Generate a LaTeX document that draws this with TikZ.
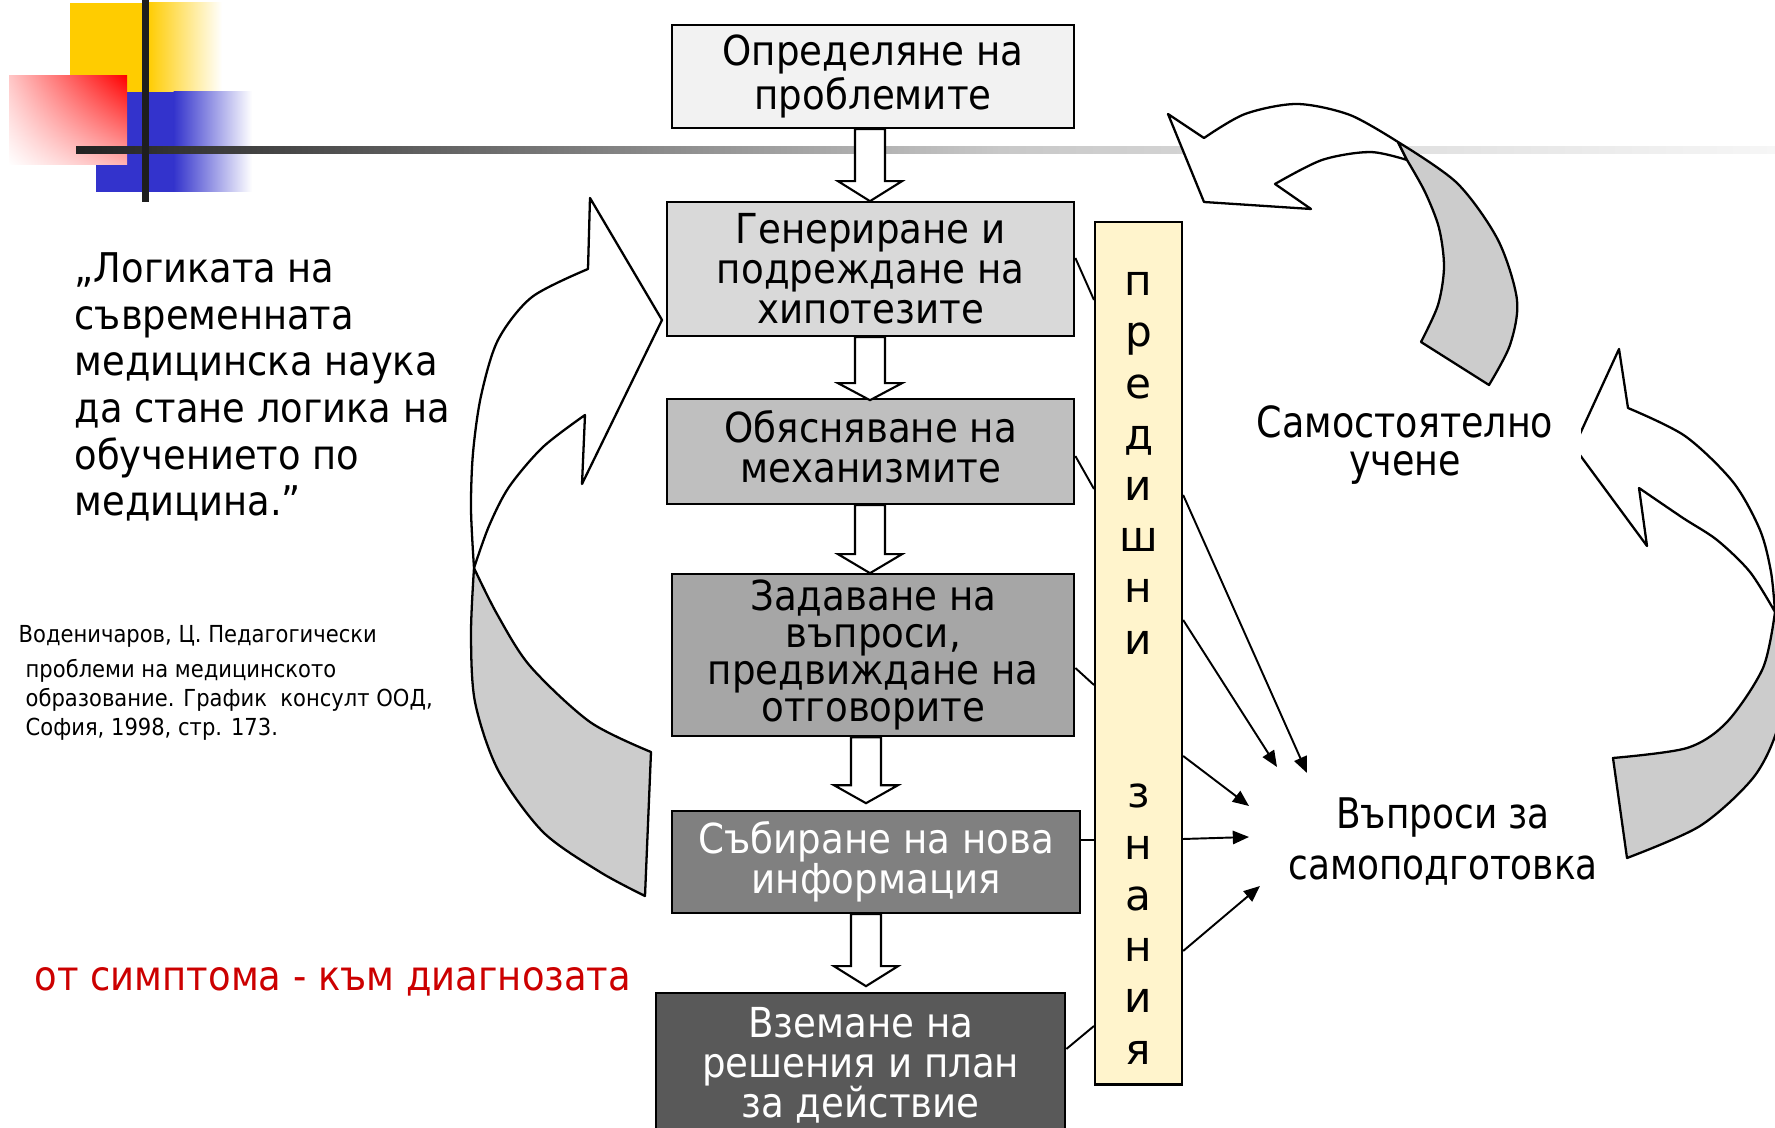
\documentclass[tikz,border=0pt]{standalone}
\usepackage{fontspec}
\setmainfont{DejaVu Sans}
\newfontfamily\tah{DejaVu Sans}[FakeStretch=0.9]
\newfontfamily\cnd{DejaVu Sans}[FakeStretch=0.85]
\usetikzlibrary{arrows.meta,calc,shadings}
\definecolor{yel}{HTML}{FFCC00}
\definecolor{blu}{HTML}{3333CC}
\definecolor{dk}{HTML}{1E1E1E}
\definecolor{lineA}{HTML}{222222}
\definecolor{lineB}{HTML}{C8C8C8}
\definecolor{lineC}{HTML}{F6F6F6}
\definecolor{fA}{HTML}{F2F2F2}
\definecolor{fB}{HTML}{D9D9D9}
\definecolor{fC}{HTML}{BFBFBF}
\definecolor{fD}{HTML}{A6A6A6}
\definecolor{fE}{HTML}{808080}
\definecolor{fF}{HTML}{595959}
\definecolor{barfill}{HTML}{FFF4CC}
\definecolor{backgrey}{HTML}{CCCCCC}
\definecolor{redtxt}{HTML}{CC0000}
\tikzset{
  box/.style={draw=black, line width=0.6pt, anchor=north west, inner sep=0pt, align=center,
    font=\tah\fontsize{11.75}{11.4}\selectfont},
  blk/.style={draw=black, fill=white, line width=0.6pt},
  conn/.style={line width=0.55pt},
  tipped/.style={-{Triangle[length=4.6pt,width=3.8pt]}},
  front/.style={draw=black, fill=white, line width=0.65pt, line join=round},
  back/.style={draw=black, fill=backgrey, line width=0.65pt, line join=round},
}
\newcommand\blockarrow[4]{%
  \draw[blk] (#2,0 |- #1.south) -- ++(0,#3) -- ++(-17,0) -- ++(32,#4) -- ++(32,-#4) -- ++(-17,0) -- ++(0,-#3) -- cycle;}
\begin{document}
\begin{tikzpicture}[x=0.01cm,y=-0.01cm]
\useasboundingbox (0,0) rectangle (1775,1128);
\clip (0,0) rectangle (1775,1128);
\fill[white] (0,0) rectangle (1775,1128);

% decoration top-left
\fill[yel] (70,3) rectangle (148,92);
\shade[left color=yel, right color=white] (147.5,3) rectangle (222,92);
\fill[blu] (96,92) rectangle (174,192);
\shade[left color=blu, right color=white] (173.5,92) rectangle (252,192);
\shade[upper right=red, upper left=red!22, lower right=red!30, lower left=white] (9,76) rectangle (127,165);
\shade[left color=lineA, right color=lineB] (76,146.5) rectangle (1000.5,153.5);
\shade[left color=lineB, right color=lineC] (1000,146.5) rectangle (1775,153.5);
\fill[dk] (141.5,0) rectangle (148.5,202);

% left curved arrow
\path[front] plot[smooth] coordinates {(588,269) (532,297) (498,340) (481,396) (473,453) (471,509) (474,568)}
  -- plot[smooth] coordinates {(474,568) (489,526) (509,487) (543,447) (585,415)}
  -- (582,484) -- (662,320) -- (590,198) -- cycle;
\path[back] plot[smooth] coordinates {(474,568) (471,634) (475,702) (498,770) (543,832) (600,872) (645,896)}
  -- (651,752)
  -- plot[smooth] coordinates {(651,752) (590,722) (530,666) (497,614) (474,568)} -- cycle;

% top-right curved arrow
\path[front] plot[smooth] coordinates {(1204,138) (1245,114) (1297,104) (1350,115) (1398,142)}
  -- (1407,160)
  -- plot[smooth] coordinates {(1407,160) (1370,152) (1322,160) (1275,184)}
  -- (1311,209) -- (1204,202) -- (1168,114) -- cycle;
\path[back] plot[smooth] coordinates {(1398,142) (1457,183) (1498,240) (1517,300) (1510,345) (1489,385)}
  -- (1421,342)
  -- plot[smooth] coordinates {(1421,342) (1438,305) (1444,267) (1439,228) (1425,192) (1407,160)} -- cycle;

% bottom-right curved arrow
\path[front] plot[smooth] coordinates {(1628,408) (1685,436) (1733,482) (1760,530) (1771,572) (1775,612)}
  -- plot[smooth] coordinates {(1775,612) (1750,572) (1717,540) (1683,518) (1639,488)}
  -- (1647,546) -- (1574,447) -- (1619,349) -- cycle;
\path[back] plot[smooth] coordinates {(1775,612) (1786,670) (1777,730) (1753,778) (1700,826) (1627,858)}
  -- (1613,758)
  -- plot[smooth] coordinates {(1613,758) (1687,748) (1727,722) (1763,668) (1775,612)} -- cycle;

% boxes
\node[box, fill=fA, minimum width=4.02cm, minimum height=1.03cm] (b1) at (671,24) {Определяне на\\проблемите};
\node[box, fill=fB, minimum width=4.07cm, minimum height=1.34cm] (b2) at (666,201) {Генериране и\\подреждане на\\хипотезите};
\node[box, fill=fC, minimum width=4.07cm, minimum height=1.05cm, text depth=0.1cm] (b3) at (666,398) {Обясняване на\\механизмите};
\node[box, fill=fD, minimum width=4.02cm, minimum height=1.62cm, font=\tah\fontsize{11.75}{10.5}\selectfont] (b4) at (671,573) {Задаване на\\въпроси,\\предвиждане на\\отговорите};
\node[box, fill=fE, text=white, minimum width=4.08cm, minimum height=1.02cm] (b5) at (671,810) {Събиране на нова\\информация};
\node[box, fill=fF, text=white, minimum width=4.09cm, minimum height=1.45cm] (b6) at (655,992) {Вземане на\\решения и план\\за действие};

\blockarrow{b1}{855}{52}{20}
\blockarrow{b2}{855}{46}{17}
\blockarrow{b3}{855}{49}{19}
\blockarrow{b4}{851}{48}{18}
\blockarrow{b5}{851}{52}{20}

% bar of prior knowledge
\node[draw=black, fill=barfill, line width=0.6pt, anchor=north west, inner sep=0pt,
  minimum width=0.87cm, minimum height=8.62cm] (bar) at (1094,221) {};
\node[align=center, inner sep=0pt, font=\fontsize{12}{14.57}\selectfont] (bartext) at ($(bar.center)+(0,15)$)
  {п\\р\\е\\д\\и\\ш\\н\\и\\~\\~\\з\\н\\а\\н\\и\\я};

\draw[conn] (b2.east |- 0,258) -- (bar.west |- 0,300);
\draw[conn] (b3.east |- 0,456) -- (bar.west |- 0,489);
\draw[conn] (b4.east |- 0,668) -- (bar.west |- 0,685);
\draw[conn] (b5.east |- 0,840) -- (bar.west |- 0,840);
\draw[conn] (b6.east |- 0,1049) -- (bar.west |- 0,1026);

% questions for self-preparation
\node[align=center, inner sep=0pt, font=\cnd\fontsize{12}{14.5}\selectfont] (q) at (1443,842) {Въпроси за\\самоподготовка};
\coordinate (t1) at (1307,773);
\coordinate (t2) at (1277,767);
\coordinate (t3) at (1249,806);
\coordinate (t4) at (1249,837);
\coordinate (t5) at (1260,886);
\draw[conn, tipped] (bar.east |- 0,495) -- (t1);
\draw[conn, tipped] (bar.east |- 0,620) -- (t2);
\draw[conn, tipped] (bar.east |- 0,756) -- (t3);
\draw[conn, tipped] (bar.east |- 0,839) -- (t4);
\draw[conn, tipped] (bar.east |- 0,951) -- (t5);

% self-study label (white box hides the arrow tip)
\node[fill=white, align=center, inner xsep=0.28cm, inner ysep=0.1cm, font=\cnd\fontsize{12.2}{10.6}\selectfont] (self) at (1405,445) {Самостоятелно\\учене};

% left texts
\node[anchor=north west, inner sep=0pt, align=left, font=\tah\fontsize{11.64}{13.26}\selectfont] (quote) at (74,252)
  {„Логиката на\\съвременната\\медицинска наука\\да стане логика на\\обучението по\\медицина.”};
\node[anchor=west, inner sep=0pt, font=\tah\fontsize{6.66}{8.25}\selectfont] (cit1) at (18,636) {Воденичаров, Ц. Педагогически};
\node[anchor=north west, inner sep=0pt, align=left, font=\tah\fontsize{6.66}{8.25}\selectfont] (cit2) at (25,659)
  {проблеми на медицинското\\образование. График~ консулт ООД,\\София, 1998, стр. 173.};
\node[anchor=base west, inner sep=0pt, text=redtxt, font=\tah\fontsize{11.67}{14}\selectfont] (motto) at (34,991) {от симптома - към диагнозата};
\end{tikzpicture}
\end{document}
